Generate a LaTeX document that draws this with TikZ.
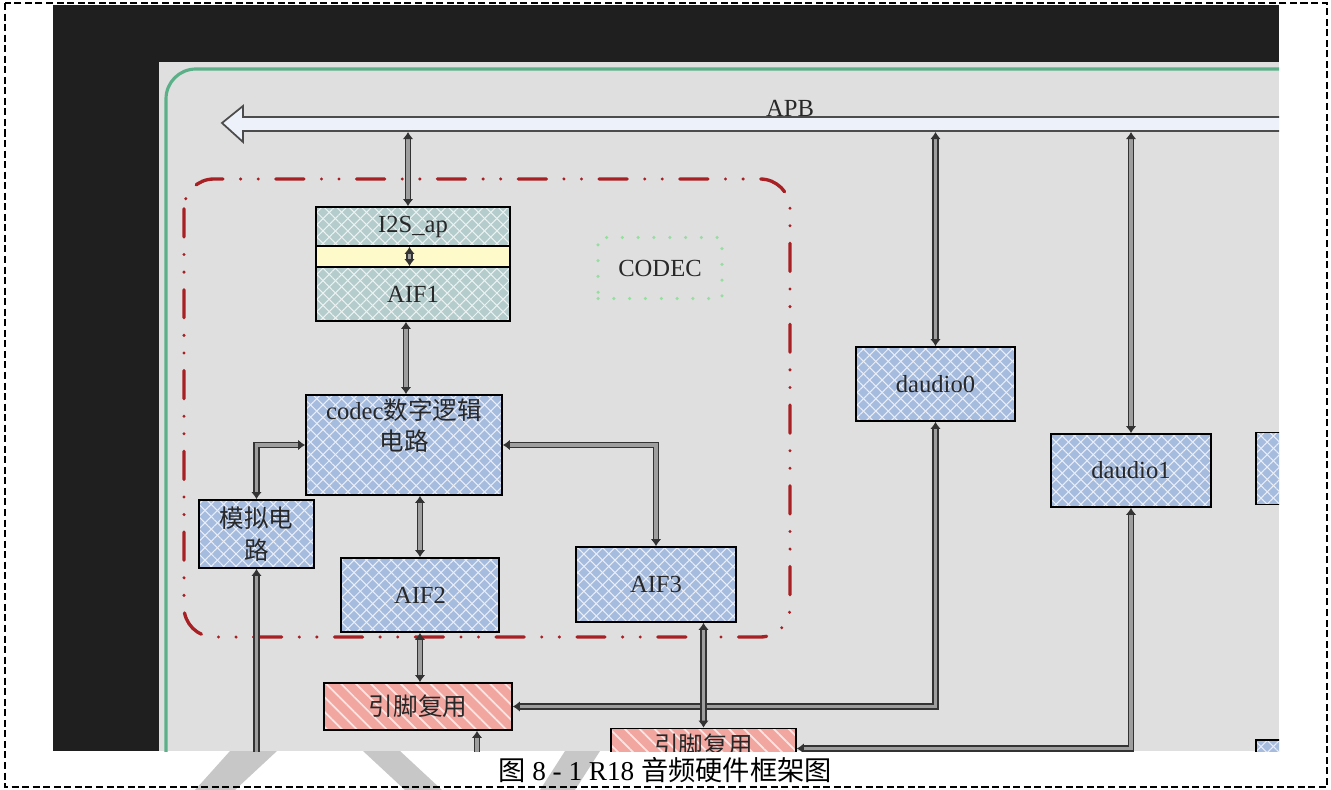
\documentclass[tikz,border=0pt]{standalone}
\usepackage{fontspec}
\setmainfont{Liberation Serif}
\newfontfamily\cjk{Noto Sans CJK SC}
\usetikzlibrary{arrows.meta}
\usetikzlibrary{patterns.meta}

\definecolor{panelgray}{RGB}{223,223,223}
\definecolor{framegreen}{RGB}{92,176,136}
\definecolor{codecred}{RGB}{168,32,36}
\definecolor{labelgreen}{RGB}{150,222,160}
\definecolor{boxblue}{RGB}{166,188,222}
\definecolor{boxcyan}{RGB}{180,204,204}
\definecolor{boxyellow}{RGB}{255,250,202}
\definecolor{boxpink}{RGB}{242,166,160}
\definecolor{busfill}{RGB}{236,241,250}
\definecolor{textgray}{RGB}{40,40,40}

\begin{document}
\begin{tikzpicture}[x=0.02cm,y=-0.02cm,>={Latex[length=4pt,width=6pt]}]
    \tikzstyle{blk}=[draw=black,line width=1pt,inner sep=0pt,text=textgray,align=center,font=\fontsize{14}{18}\selectfont]
    \tikzstyle{link}=[draw=black!80,line width=.7pt,double=black!38,double distance=2.2pt]
    \tikzset{grid/.style={blk,
        preaction={fill=#1},
        preaction={pattern={Lines[angle=45,distance=5pt,line width=.6pt]},pattern color=white!75!#1},
        preaction={pattern={Lines[angle=-45,distance=5pt,line width=.6pt]},pattern color=white!75!#1}}}
    \tikzstyle{stripe}=[blk,preaction={fill=boxpink},
        preaction={pattern={Lines[angle=-45,distance=6pt,line width=1pt]},pattern color=white!70!boxpink}]

    % page, screenshot and panel
    \fill[white] (0,0) rectangle (1331,790);
    \useasboundingbox (0,0) rectangle (1331,790);
    \fill[black!22] (230,751) -- (277,751) -- (235,790) -- (195,790) -- cycle;
    \fill[black!22] (363,751) -- (400,751) -- (442,790) -- (405,790) -- cycle;
    \fill[black!22] (565,751) -- (600,751) -- (575,790) -- (540,790) -- cycle;
    \fill[black!88] (53,5) rectangle (1279,751);
    \fill[panelgray] (159,62) rectangle (1279,751);

    \begin{scope}
    \clip (159,62) rectangle (1279,751);
    \draw[framegreen,line width=1.8pt,rounded corners=17pt] (166,770) -- (166,69) -- (1290,69);

    % APB bus
    \draw[fill=busfill,draw=black!70,line width=1pt]
        (222,123) -- (243,106) -- (243,117) -- (1290,117) -- (1290,131) -- (243,131) -- (243,142) -- cycle;
    \node[font=\fontsize{14}{18}\selectfont,text=textgray] (apb) at (790,108) {APB};
    \coordinate (apb1) at (408,132);
    \coordinate (apb2) at (935.5,132);
    \coordinate (apb3) at (1131,132);

    % CODEC frame
    \draw[codecred,line width=1.9pt,line cap=round,rounded corners=17pt,
        dash pattern=on 16pt off 10pt on 0pt off 10pt on 0pt off 10pt] (184,179) rectangle (790,637);
    \node[draw=labelgreen,line width=2pt,line cap=round,dash pattern=on 0pt off 9pt,
        minimum width=2.48cm,minimum height=1.22cm,text=textgray,font=\fontsize{14}{18}\selectfont] (codeclbl) at (660,268) {CODEC};

    % blocks
    \node[grid=boxcyan,minimum width=3.88cm,minimum height=0.78cm] (i2s) at (413,226.5) {I2S\_ap};
    \node[blk,fill=boxyellow,minimum width=3.88cm,minimum height=0.42cm] (band) at (413,256.5) {};
    \node[grid=boxcyan,minimum width=3.88cm,minimum height=1.08cm] (aif1) at (413,294) {AIF1};
    \node[grid=boxblue,minimum width=3.92cm,minimum height=2cm] (codec) at (404,445) {codec{\cjk 数字逻辑}\\{\cjk 电路}\\\strut};
    \node[grid=boxblue,minimum width=2.3cm,minimum height=1.36cm] (analog) at (256.5,534) {{\cjk 模拟电}\\{\cjk 路}};
    \node[grid=boxblue,minimum width=3.16cm,minimum height=1.48cm] (aif2) at (420,595) {AIF2};
    \node[grid=boxblue,minimum width=3.2cm,minimum height=1.5cm] (aif3) at (656,584.5) {AIF3};
    \node[grid=boxblue,minimum width=3.18cm,minimum height=1.48cm] (daudio0) at (935.5,384) {daudio0};
    \node[grid=boxblue,minimum width=3.2cm,minimum height=1.46cm] (daudio1) at (1131,470.5) {daudio1};
    \node[grid=boxblue,minimum width=3.2cm,minimum height=1.44cm] (dright) at (1336,468.5) {};
    \node[grid=boxblue,minimum width=3.2cm,minimum height=1.44cm] (dlow) at (1336,776) {};
    \node[stripe,minimum width=3.76cm,minimum height=0.94cm] (pinmux1) at (418,706.5) {{\cjk 引脚复用}};
    \node[stripe,minimum width=3.7cm,minimum height=0.94cm] (pinmux2) at (703.5,752) {};
    \node[text=textgray,inner sep=0pt,font=\fontsize{14}{16}\selectfont] (pinmux2txt) at (703.5,745) {{\cjk 引脚复用}};
    \coordinate (anout) at (256.5,790);
    \coordinate (pmout) at (477,790);

    % connectors
    \path[link,<->] (apb1) -- (apb1 |- i2s.north);
    \path[link,<->] ([xshift=-2pt]i2s.south) -- ([xshift=-2pt]aif1.north);
    \path[link,<->] ([xshift=-4pt]aif1.south) -- ([xshift=-4pt]aif1.south |- codec.north);
    \path[link,<->] (codec.west) -| (analog.north);
    \path[link,<->] (codec.east) -| (aif3.north);
    \path[link,<->] (codec.south -| aif2.north) -- (aif2.north);
    \path[link,<->] (aif2.south) -- (aif2.south |- pinmux1.north);
    \path[link,<-] (analog.south) -- (anout);
    \path[link,<-] (pinmux1.south -| pmout) -- (pmout);
    \path[link,<->] (apb2) -- (daudio0.north);
    \path[link,<->] (daudio0.south) |- (pinmux1.east);
    \path[link,<->] (aif3.south -| pinmux2.north) -- (pinmux2.north);
    \path[link,<->] (apb3) -- (daudio1.north);
    \path[link,<->] (daudio1.south) |- ([yshift=2pt]pinmux2.east);
    \end{scope}

    % caption
    \node[font=\fontsize{15.5}{18}\selectfont] (caption) at (665,770) {{\cjk 图}\ 8 - 1 R18 {\cjk 音频硬件框架图}};
    \draw[line width=.6pt,dash pattern=on 4pt off 2pt] (5,3) rectangle (1327,787);
\end{tikzpicture}
\end{document}
